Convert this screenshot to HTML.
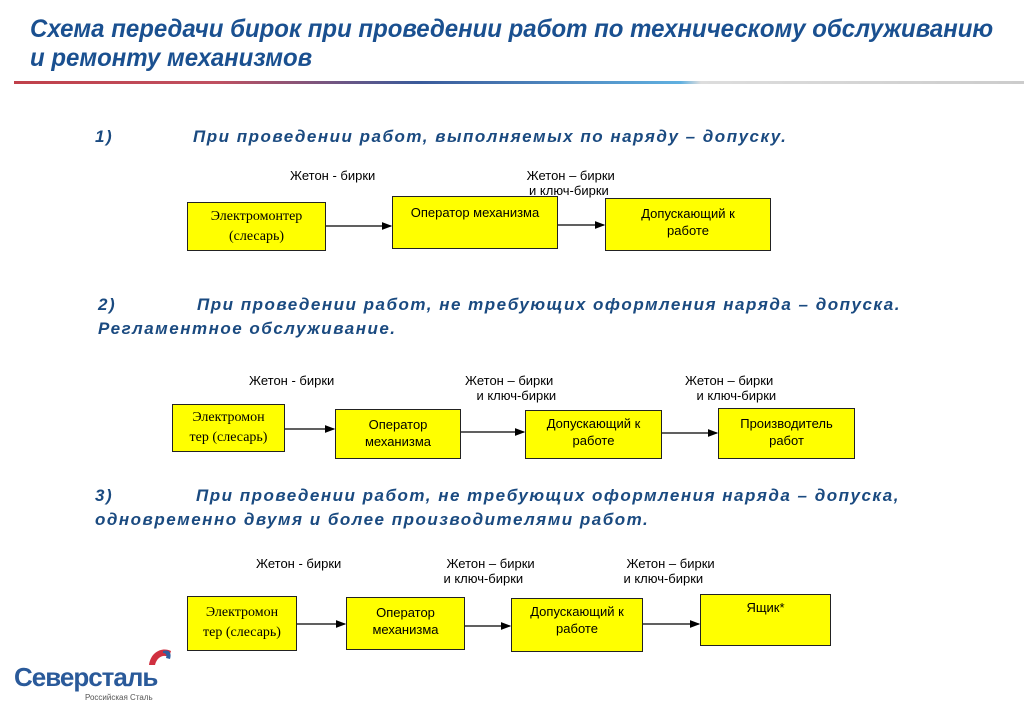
<!DOCTYPE html>
<html><head><meta charset="utf-8"><style>
body{margin:0;width:1024px;height:708px;background:#fff;position:relative;overflow:hidden;font-family:"Liberation Sans",sans-serif}
.a{position:absolute;white-space:nowrap}
.t{color:#1a5090;font-weight:bold;font-style:italic;font-size:25px;transform:scaleX(.96);transform-origin:left top;letter-spacing:0}
.h{color:#1a4a80;font-weight:bold;font-style:italic;font-size:17px;letter-spacing:1.5px}
.l{font-size:13px;color:#000;text-align:center;line-height:15px}
.b{position:absolute;background:#ffff00;border:1.5px solid #222;box-sizing:border-box;text-align:center;font-size:13px;line-height:17px;color:#000}
.s{font-family:"Liberation Serif",serif;font-size:14px;line-height:20px}
</style></head><body>
<div class="a t" style="left:30px;top:15px">Схема передачи бирок при проведении работ по техническому обслуживанию</div>
<div class="a t" style="left:30px;top:44px">и ремонту механизмов</div>
<div class="a" style="left:14px;top:81px;width:1010px;height:3px;background:linear-gradient(90deg,#c0404a 0%,#c05060 20%,#3a5a9a 40%,#60b0e0 66%,#ddd 68%,#ccc 100%)"></div>

<div class="a h" style="left:95px;top:127px">1)</div>
<div class="a h" style="left:193px;top:127px">При проведении работ, выполняемых по наряду – допуску.</div>
<div class="a h" style="left:98px;top:295px">2)</div>
<div class="a h" style="left:197px;top:295px">При проведении работ, не требующих оформления наряда – допуска.</div>
<div class="a h" style="left:98px;top:319px">Регламентное обслуживание.</div>
<div class="a h" style="left:95px;top:486px">3)</div>
<div class="a h" style="left:196px;top:486px">При проведении работ, не требующих оформления наряда – допуска,</div>
<div class="a h" style="left:95px;top:510px">одновременно двумя и более производителями работ.</div>

<svg class="a" style="left:0;top:0" width="1024" height="708">
<defs><marker id="m" markerWidth="8" markerHeight="8" refX="7" refY="4" orient="auto"><path d="M0,1 L8,4 L0,7z" fill="#000"/></marker></defs>
<g stroke="#000" stroke-width="1.3" marker-end="url(#m)">
<line x1="326" y1="226" x2="391" y2="226"/><line x1="558" y1="225" x2="604" y2="225"/>
<line x1="285" y1="429" x2="334" y2="429"/><line x1="461" y1="432" x2="524" y2="432"/><line x1="662" y1="433" x2="717" y2="433"/>
<line x1="297" y1="624" x2="345" y2="624"/><line x1="465" y1="626" x2="510" y2="626"/><line x1="643" y1="624" x2="699" y2="624"/>
</g></svg>

<div class="a l" style="left:290px;top:168px">Жетон - бирки</div>
<div class="a l" style="left:523px;top:168px">&nbsp;Жетон – бирки<br>и ключ-бирки</div>
<div class="b s" style="left:187px;top:202px;width:139px;height:49px;padding-top:4px">Электромонтер<br>(слесарь)</div>
<div class="b" style="left:392px;top:196px;width:166px;height:53px;padding-top:7px">Оператор механизма</div>
<div class="b" style="left:605px;top:198px;width:166px;height:53px;padding-top:6px">Допускающий к<br>работе</div>

<div class="a l" style="left:249px;top:373px">Жетон - бирки</div>
<div class="a l" style="left:462px;top:373px">Жетон – бирки<br>&nbsp;&nbsp;&nbsp;&nbsp;и ключ-бирки</div>
<div class="a l" style="left:682px;top:373px">Жетон – бирки<br>&nbsp;&nbsp;&nbsp;&nbsp;и ключ-бирки</div>
<div class="b s" style="left:172px;top:404px;width:113px;height:48px;padding-top:3px">Электромон<br>тер (слесарь)</div>
<div class="b" style="left:335px;top:409px;width:126px;height:50px;padding-top:6px">Оператор<br>механизма</div>
<div class="b" style="left:525px;top:410px;width:137px;height:49px;padding-top:4px">Допускающий к<br>работе</div>
<div class="b" style="left:718px;top:408px;width:137px;height:51px;padding-top:6px">Производитель<br>работ</div>

<div class="a l" style="left:256px;top:556px">Жетон - бирки</div>
<div class="a l" style="left:432px;top:556px">&nbsp;&nbsp;&nbsp;&nbsp;Жетон – бирки<br>и ключ-бирки</div>
<div class="a l" style="left:612px;top:556px">&nbsp;&nbsp;&nbsp;&nbsp;Жетон – бирки<br>и ключ-бирки</div>
<div class="b s" style="left:187px;top:596px;width:110px;height:55px;padding-top:6px">Электромон<br>тер (слесарь)</div>
<div class="b" style="left:346px;top:597px;width:119px;height:53px;padding-top:6px">Оператор<br>механизма</div>
<div class="b" style="left:511px;top:598px;width:132px;height:54px;padding-top:4px">Допускающий к<br>работе</div>
<div class="b" style="left:700px;top:594px;width:131px;height:52px;padding-top:4px">Ящик*</div>

<svg class="a" style="left:145px;top:645px" width="30" height="25"><path d="M4,20 C6,6 18,2 26,6 L24,12 C18,9 12,12 10,20z" fill="#d03040"/><path d="M18,6 C24,4 27,8 25,14 L21,13 C22,10 21,8 18,8z" fill="#3060a0"/></svg>
<div class="a" style="left:14px;top:662px;font-size:26px;font-weight:bold;color:#2a5a9a;letter-spacing:-1px">Северсталь</div>
<div class="a" style="left:85px;top:693px;font-size:8px;color:#555">Российская Сталь</div>
</body></html>
